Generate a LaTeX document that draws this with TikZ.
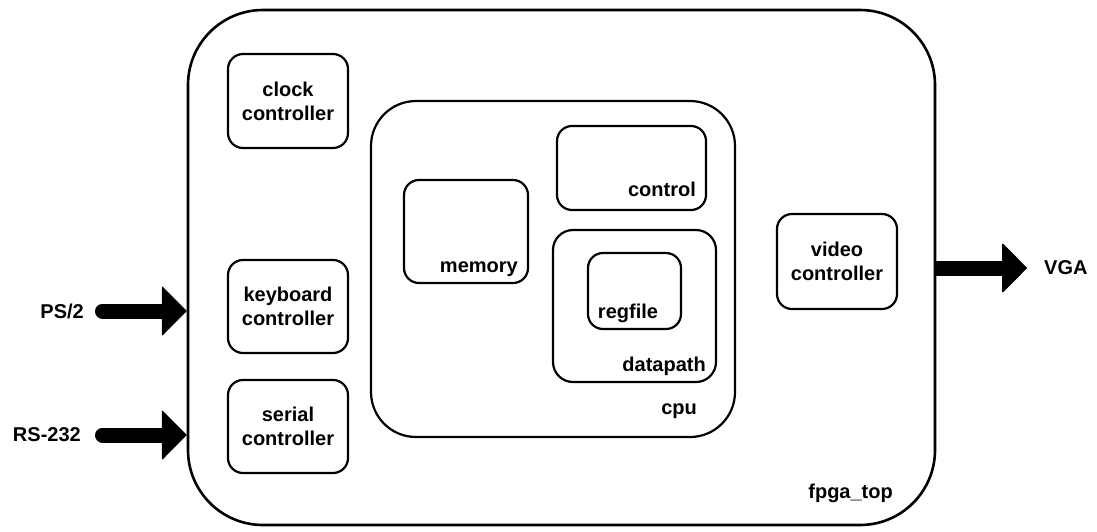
\documentclass[tikz,border=0pt]{standalone}
\usepackage{fontspec}
\setmainfont{Liberation Sans}
\usetikzlibrary{arrows.meta,backgrounds}
\tikzset{
  blk/.style={draw, line width=2.2pt, rounded corners=15pt, inner sep=0pt,
    align=center, font=\fontsize{20}{24}\selectfont\bfseries},
  tag/.style={inner sep=0pt, font=\fontsize{20}{24}\selectfont\bfseries},
  bigarrow/.style={line width=15pt, line cap=round,
    -{Triangle[length=25pt,width=50pt,line width=1pt,round]}},
}
\begin{document}
\begin{tikzpicture}[x=1pt,y=-1pt]
\useasboundingbox (0,0) rectangle (1097,531);

% top-level container
\node[blk, line width=2.6pt, rounded corners=75pt, minimum width=747pt, minimum height=515pt] (fpga) at (561.5,267.5) {};
\node[tag, anchor=base east] (fpgatag) at (893,498) {fpga\_top};

% peripheral controllers
\node[blk, minimum width=120pt, minimum height=94pt] (clock) at (288,101) {clock\\controller};
\node[blk, minimum width=120pt, minimum height=93pt] (kbd) at (288,306.5) {keyboard\\controller};
\node[blk, minimum width=120pt, minimum height=93pt] (serial) at (288,426.5) {serial\\controller};
\node[blk, minimum width=120pt, minimum height=95pt] (video) at (837,261.5) {video\\controller};

% processor
\node[blk, rounded corners=45pt, minimum width=364pt, minimum height=336pt] (cpu) at (553,269) {};
\node[tag, anchor=base east] (cputag) at (697,414) {cpu};

\node[blk, minimum width=124pt, minimum height=103pt] (memory) at (466,231.5) {};
\node[tag, anchor=base east] (memtag) at (518,272) {memory};

\node[blk, minimum width=149pt, minimum height=84pt] (control) at (631.5,168) {};
\node[tag, anchor=base east] (ctrltag) at (696,196) {control};

\node[blk, rounded corners=20pt, minimum width=163pt, minimum height=152pt] (datapath) at (634.5,306) {};
\node[tag, anchor=base east] (dptag) at (706,371) {datapath};

\node[blk, minimum width=93pt, minimum height=76pt] (regfile) at (634.5,291) {};
\node[tag, anchor=base] (rftag) at (628,318) {regfile};

% external interfaces
\node[tag, anchor=east] (ps2) at (84,311) {PS/2};
\node[tag, anchor=east] (rs232) at (81,435) {RS-232};
\node[tag, anchor=west] (vga) at (1044,268) {VGA};

\coordinate (ps2in) at (102.5,311);
\coordinate (rsin) at (102.5,435);
\coordinate (vgaout) at (1027,268);

\draw[bigarrow] (ps2in) -- (fpga.west |- ps2in);
\draw[bigarrow] (rsin) -- (fpga.west |- rsin);
\begin{scope}[on background layer]
  \draw[bigarrow, line cap=butt] (fpga.east |- vgaout) -- (vgaout);
\end{scope}
\end{tikzpicture}
\end{document}
